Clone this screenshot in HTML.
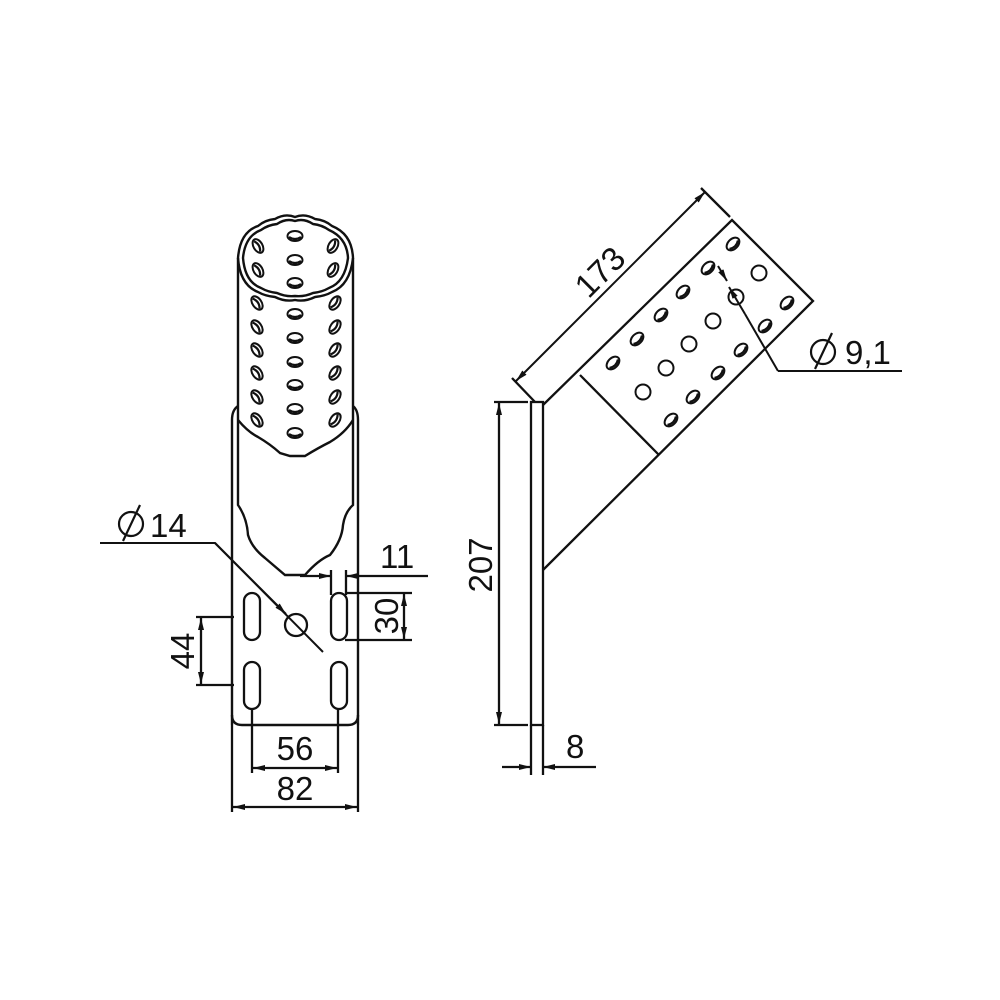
<!DOCTYPE html>
<html><head><meta charset="utf-8"><style>
html,body{margin:0;padding:0;background:#fff}
svg{display:block}
text{font-family:"Liberation Sans","DejaVu Sans",sans-serif;fill:#111;font-size:33px}
</style></head><body>
<svg width="1000" height="1000" viewBox="0 0 1000 1000" xmlns="http://www.w3.org/2000/svg">
<defs>
<marker id="a" viewBox="0 0 12 6" refX="12" refY="3" markerWidth="12" markerHeight="6" markerUnits="userSpaceOnUse" orient="auto"><path d="M0,0 L12,3 L0,6z" fill="#111"/></marker>
<marker id="b" viewBox="0 0 12 6" refX="0" refY="3" markerWidth="12" markerHeight="6" markerUnits="userSpaceOnUse" orient="auto"><path d="M12,0 L0,3 L12,6z" fill="#111"/></marker>
<g id="sh"><ellipse rx="7.5" ry="5" fill="none" stroke="#111" stroke-width="2"/><path d="M-6,1 Q0,5 6,1" stroke="#111" stroke-width="2.2" fill="none"/></g>
<g id="sl"><ellipse rx="4.5" ry="7.5" fill="none" stroke="#111" stroke-width="2"/><path d="M-1,-6 Q3,0 -1,6" stroke="#111" stroke-width="2.2" fill="none"/></g>
</defs>
<g fill="none" stroke="#111" stroke-width="2.4">
<path d="M232,725 L232,420 Q232,410 238,406 M358,725 L358,420 Q358,410 353,406"/>
<path d="M232,715 Q232,725 242,725 L348,725 Q358,725 358,715"/>
<path d="M238,258 L238,420 M353,258 L353,420"/>
<path d="M238,258 Q240,232 258,226 Q265,220 275,219 Q285,213 295,217 Q305,213 315,219 Q325,220 332,226 Q352,234 353,258 Q350,285 332,292 Q325,296 315,297 Q305,302 295,300 Q285,302 275,297 Q265,296 258,292 Q240,285 238,258Z"/>
<path d="M243,258 Q245,236 261,230 Q268,225 277,224 Q286,218 295,221 Q304,218 313,224 Q322,225 329,230 Q347,238 348,258 Q345,282 329,288 Q322,292 313,293 Q304,297 295,296 Q286,297 277,293 Q268,292 261,288 Q245,282 243,258Z"/>
<path d="M238,420 Q248,432 258,437 Q270,444 280,453 L290,456 L305,456 Q318,448 330,442 Q345,433 353,420"/>
<path d="M238,420 L238,505 Q247,518 248,535 Q252,548 265,558 L285,575 L305,575 Q318,560 330,555 Q342,540 343,525 Q345,512 353,505 L353,420"/>
</g>
<g>
<use href="#sh" x="295" y="236"/><use href="#sh" x="295" y="260"/><use href="#sh" x="295" y="283"/>
<use href="#sh" x="295" y="314"/><use href="#sh" x="295" y="338"/><use href="#sh" x="295" y="362"/><use href="#sh" x="295" y="385"/><use href="#sh" x="295" y="409"/><use href="#sh" x="295" y="433"/>
<g transform="translate(258,246) rotate(-30)"><use href="#sl"/></g><g transform="translate(258,270) rotate(-30)"><use href="#sl"/></g>
<g transform="translate(333,246) rotate(30)"><use href="#sl"/></g><g transform="translate(333,270) rotate(30)"><use href="#sl"/></g>
<g transform="translate(257,303) rotate(-35)"><use href="#sl"/></g><g transform="translate(257,327) rotate(-35)"><use href="#sl"/></g><g transform="translate(257,350) rotate(-35)"><use href="#sl"/></g><g transform="translate(257,373) rotate(-35)"><use href="#sl"/></g><g transform="translate(257,397) rotate(-35)"><use href="#sl"/></g><g transform="translate(257,420) rotate(-35)"><use href="#sl"/></g>
<g transform="translate(335,303) rotate(35)"><use href="#sl"/></g><g transform="translate(335,327) rotate(35)"><use href="#sl"/></g><g transform="translate(335,350) rotate(35)"><use href="#sl"/></g><g transform="translate(335,373) rotate(35)"><use href="#sl"/></g><g transform="translate(335,397) rotate(35)"><use href="#sl"/></g><g transform="translate(335,420) rotate(35)"><use href="#sl"/></g>
</g>
<g fill="none" stroke="#111" stroke-width="2.3">
<rect x="244" y="593" width="16" height="47" rx="8"/><rect x="244" y="662" width="16" height="47" rx="8"/>
<rect x="331" y="593" width="16" height="47" rx="8"/><rect x="331" y="662" width="16" height="47" rx="8"/>
<circle cx="296" cy="625" r="11"/>
<path d="M100,543 L215,543 L323,652" stroke-width="2"/>
<path d="M215,543 L286,614" marker-end="url(#a)" stroke-width="2"/>
<path d="M300,576 L331,576" marker-end="url(#a)"/><path d="M428,576 L346,576" marker-end="url(#a)"/>
<path d="M331,570 L331,595 M346,570 L346,595"/>
<path d="M345,593 L412,593 M345,640 L412,640"/>
<path d="M404,594 L404,639" marker-start="url(#b)" marker-end="url(#a)"/>
<path d="M196,617 L234,617 M196,685 L234,685"/>
<path d="M201,618 L201,684" marker-start="url(#b)" marker-end="url(#a)"/>
<path d="M252,708 L252,773 M338,708 L338,773"/>
<path d="M253,768 L337,768" marker-start="url(#b)" marker-end="url(#a)"/>
<path d="M232,725 L232,812 M358,725 L358,812"/>
<path d="M233,807 L357,807" marker-start="url(#b)" marker-end="url(#a)"/>
<rect x="531" y="402" width="12" height="323"/>
<path d="M543,405 L732,220 L813,301 L543,570"/>
<path d="M580,375 L659,455"/>
<path d="M512,378 L535,402 M701,188 L730,217"/>
<path d="M516,381 L705,192" marker-start="url(#b)" marker-end="url(#a)" stroke-width="2"/>
<path d="M494,402 L528,402 M494,725 L528,725"/>
<path d="M499,403 L499,724" marker-start="url(#b)" marker-end="url(#a)"/>
<path d="M531,725 L531,775 M543,725 L543,775"/>
<path d="M502,767 L531,767" marker-end="url(#a)"/><path d="M596,767 L543,767" marker-end="url(#a)"/>
<path d="M778,371 L902,371 M778,371 L745,314" stroke-width="2"/>
<path d="M745,314 L729,287" marker-end="url(#a)" stroke-width="2"/>
<path d="M718,266 L727,281" marker-end="url(#a)" stroke-width="2"/>
<g stroke-width="2">
<circle cx="759" cy="273" r="7.5"/><circle cx="736" cy="297" r="7.5"/><circle cx="713" cy="321" r="7.5"/><circle cx="689" cy="344" r="7.5"/><circle cx="666" cy="368" r="7.5"/><circle cx="643" cy="392" r="7.5"/>
</g>
<!-- diameter symbols -->
<circle cx="131" cy="524" r="12" stroke-width="2.2"/><path d="M123,541 L140,505" stroke-width="2.2"/>
<circle cx="823" cy="352" r="12" stroke-width="2.2"/><path d="M815,369 L832,333" stroke-width="2.2"/>
</g>
<g>
<g transform="translate(733,244) rotate(-45)"><use href="#sh"/></g><g transform="translate(708,268) rotate(-45)"><use href="#sh"/></g><g transform="translate(683,292) rotate(-45)"><use href="#sh"/></g><g transform="translate(661,315) rotate(-45)"><use href="#sh"/></g><g transform="translate(637,339) rotate(-45)"><use href="#sh"/></g><g transform="translate(613,363) rotate(-45)"><use href="#sh"/></g>
<g transform="translate(787,303) rotate(-45)"><use href="#sh"/></g><g transform="translate(765,326) rotate(-45)"><use href="#sh"/></g><g transform="translate(741,350) rotate(-45)"><use href="#sh"/></g><g transform="translate(718,373) rotate(-45)"><use href="#sh"/></g><g transform="translate(693,397) rotate(-45)"><use href="#sh"/></g><g transform="translate(671,420) rotate(-45)"><use href="#sh"/></g>
</g>
<text x="150" y="537">14</text>
<text x="380" y="568">11</text>
<text transform="translate(398,616) rotate(-90)" text-anchor="middle">30</text>
<text transform="translate(194,651) rotate(-90)" text-anchor="middle">44</text>
<text x="295" y="760" text-anchor="middle">56</text>
<text x="295" y="800" text-anchor="middle">82</text>
<text transform="translate(608,280) rotate(-45)" text-anchor="middle">173</text>
<text transform="translate(492,565) rotate(-90)" text-anchor="middle">207</text>
<text x="566" y="758">8</text>
<text x="845" y="364">9,1</text>
</svg>
</body></html>
